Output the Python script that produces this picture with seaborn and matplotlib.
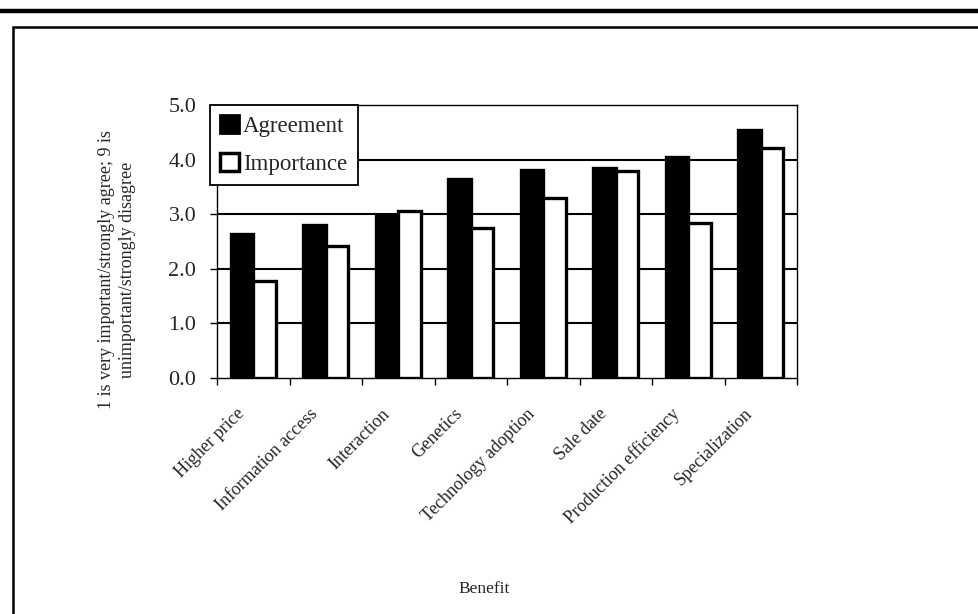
import matplotlib
matplotlib.use("Agg")
import matplotlib.pyplot as plt
import matplotlib.transforms as mtransforms
from matplotlib.lines import Line2D
from matplotlib.patches import Patch
import seaborn as sns
import pandas as pd

benefits = ["Higher price", "Information access", "Interaction", "Genetics",
            "Technology adoption", "Sale date", "Production efficiency",
            "Specialization"]
agreement = [2.64, 2.81, 2.98, 3.64, 3.81, 3.85, 4.04, 4.54]
importance = [1.78, 2.42, 3.05, 2.74, 3.30, 3.80, 2.84, 4.21]
series = ["Agreement", "Importance"]
yticks = [0.0, 1.0, 2.0, 3.0, 4.0, 5.0]

df = pd.DataFrame({
    "Benefit": benefits * 2,
    "Score": agreement + importance,
    "Series": [series[0]] * len(benefits) + [series[1]] * len(benefits),
})

sns.set_theme(style="white")
plt.rcParams["font.family"] = ["Liberation Serif", "DejaVu Serif"]

fig = plt.figure(figsize=(9.79, 6.14), dpi=100)
ax = fig.add_axes([0.2217, 0.3844, 0.8141 - 0.2217, 0.829 - 0.3844])

sns.barplot(data=df, x="Benefit", y="Score", hue="Series", order=benefits,
            hue_order=series, palette={"Agreement": "black", "Importance": "white"},
            edgecolor="black", linewidth=2.4, width=0.62, saturation=1,
            ax=ax, legend=False, zorder=3)

ax.set_ylim(0, 5)
ax.set_xlim(-0.5, len(benefits) - 0.5)
ax.set_yticks(yticks)
ax.set_yticklabels([f"{v:.1f}" for v in yticks], fontsize=16)
for v in yticks[1:-1]:
    ax.axhline(v, color="black", lw=1.5, zorder=1)

for s in ax.spines.values():
    s.set_color("black")
    s.set_linewidth(1.0)

ax.tick_params(axis="y", direction="out", length=5, width=1, color="black",
               left=True, pad=10)
ax.set_xticks(range(len(benefits)))
ax.set_xticks([i - 0.5 for i in range(len(benefits) + 1)], minor=True)
ax.tick_params(axis="x", which="major", length=0, pad=24)
ax.tick_params(axis="x", which="minor", direction="out", length=5, width=1,
               color="black", bottom=True)
ax.set_xticklabels(benefits, rotation=45, ha="right", va="center",
                   rotation_mode="anchor", fontsize=13)
shift = mtransforms.ScaledTranslation(-0.11, 0, fig.dpi_scale_trans)
for lab in ax.get_xticklabels():
    lab.set_transform(lab.get_transform() + shift)

ax.set_xlabel("")
ax.set_ylabel("")

# legend box in the upper left corner of the plot area
handles = [Patch(facecolor="black", edgecolor="black", linewidth=2),
           Patch(facecolor="white", edgecolor="black", linewidth=2.5)]
leg = fig.legend(handles, series, loc="upper left",
                 bbox_to_anchor=(210 / 979, 1 - 105 / 614),
                 frameon=True, fancybox=False, fontsize=16.5,
                 handlelength=0.8, handleheight=0.8, handletextpad=0.2,
                 labelspacing=0.7, borderpad=0.45, borderaxespad=0)
leg.get_frame().set_edgecolor("black")
leg.get_frame().set_linewidth(1.3)
leg.get_frame().set_alpha(1)

# y axis title in two lines
fig.text(117 / 979, 1 - 270 / 614,
         "1 is very important/strongly agree; 9 is\nunimportant/strongly disagree",
         rotation=90, ha="center", va="center", fontsize=13,
         multialignment="center", linespacing=1.25)
fig.text(484 / 979, 1 - 589 / 614, "Benefit", ha="center", va="center",
         fontsize=12.5)

# page frame
fig.add_artist(Line2D([0, 1], [1 - 10.5 / 614] * 2, transform=fig.transFigure,
                      color="black", lw=3.2))
fig.add_artist(Line2D([13 / 979, 1], [1 - 27 / 614] * 2, transform=fig.transFigure,
                      color="black", lw=1.8))
fig.add_artist(Line2D([13 / 979] * 2, [0, 1 - 27 / 614], transform=fig.transFigure,
                      color="black", lw=1.8))

fig.savefig("out.png", dpi=100, facecolor="white")
